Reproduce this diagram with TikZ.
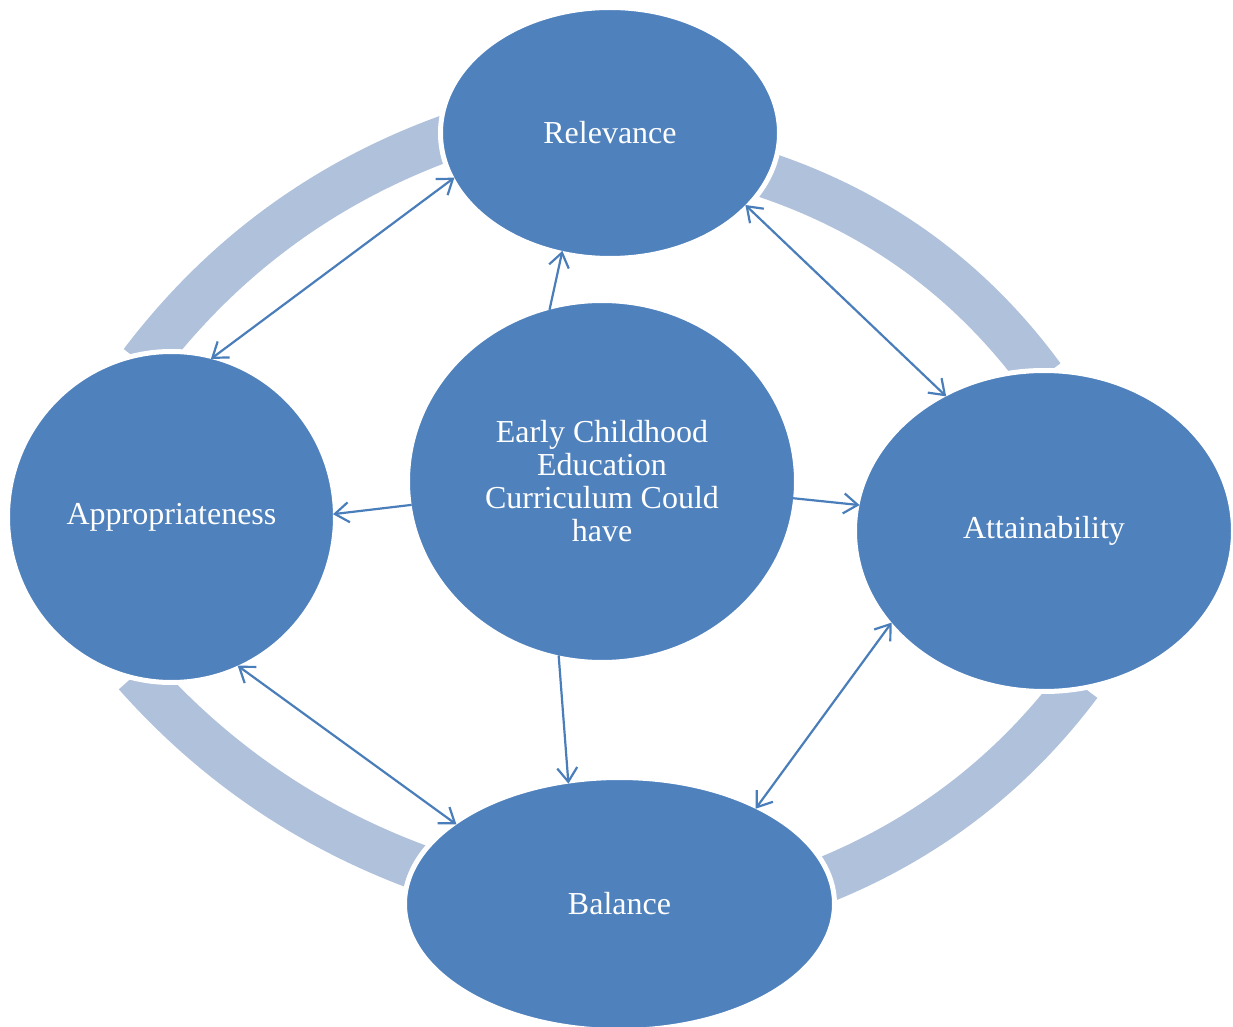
\documentclass[tikz,border=0pt]{standalone}
\usepackage{fontspec}
\setmainfont{Liberation Serif}
\usetikzlibrary{shapes.geometric, arrows.meta}
\definecolor{nodeblue}{HTML}{4F81BD}
\definecolor{ringblue}{HTML}{B0C1DC}
\definecolor{arrowblue}{HTML}{4A7EBB}

\begin{document}
\begin{tikzpicture}[x=0.5pt, y=-0.5pt,
  bubble/.style={ellipse, fill=nodeblue, draw=white, line width=2.5pt, inner sep=0pt, outer sep=-1.25pt,
    text=white, align=center, font=\fontsize{16pt}{16.5pt}\selectfont},
  ring/.style={draw=ringblue, line width=23pt},
  link/.style={draw=arrowblue, line width=1.1pt, -{Straight Barb[length=7pt,width=10pt]}},
  twoway/.style={link, {Straight Barb[length=7pt,width=10pt]}-{Straight Barb[length=7pt,width=10pt]}}]
  \useasboundingbox (0,0) rectangle (1233,1027);

  % light ring behind the bubbles
  \draw[ring] (452,136) .. controls (326.1,180.8) and (222.7,256.5) .. (142,363);
  \draw[ring] (760,173) .. controls (875.9,210.7) and (969.9,278.7) .. (1042,377);
  \draw[ring] (136,674) .. controls (215.2,763.3) and (310.9,828.3) .. (423,869);
  \draw[ring] (1079,684) .. controls (1011.3,774.3) and (924.9,840.3) .. (820,882);

  \node[bubble, minimum width=169.5pt, minimum height=125.5pt] (rel) at (610,133)   {Relevance};
  \node[bubble, minimum width=194.5pt, minimum height=181pt]   (ctr) at (602,481.5) {Early Childhood\\Education\\Curriculum Could\\have};
  \node[bubble, minimum width=164pt,   minimum height=165.5pt] (app) at (171.5,517) {Appropriateness};
  \node[bubble, minimum width=189.5pt, minimum height=160.5pt] (att) at (1044,531)  {Attainability};
  \node[bubble, minimum width=215pt,   minimum height=126.5pt] (bal) at (619.5,904) {Balance};

  \draw[link] (ctr.107)   -- (rel.248);
  \draw[link] (ctr.187.6) -- (app.1.4);
  \draw[link] (ctr.355.4) -- (att.172.8);
  \draw[link] (ctr.256)   -- (bal.113);

  \draw[twoway] (rel.196.3) -- (app.76.6);
  \draw[twoway] (rel.332)   -- (att.126.2);
  \draw[twoway] (app.294.2) -- (bal.154.9);
  \draw[twoway] (att.211.8) -- (bal.35.8);
\end{tikzpicture}
\end{document}
